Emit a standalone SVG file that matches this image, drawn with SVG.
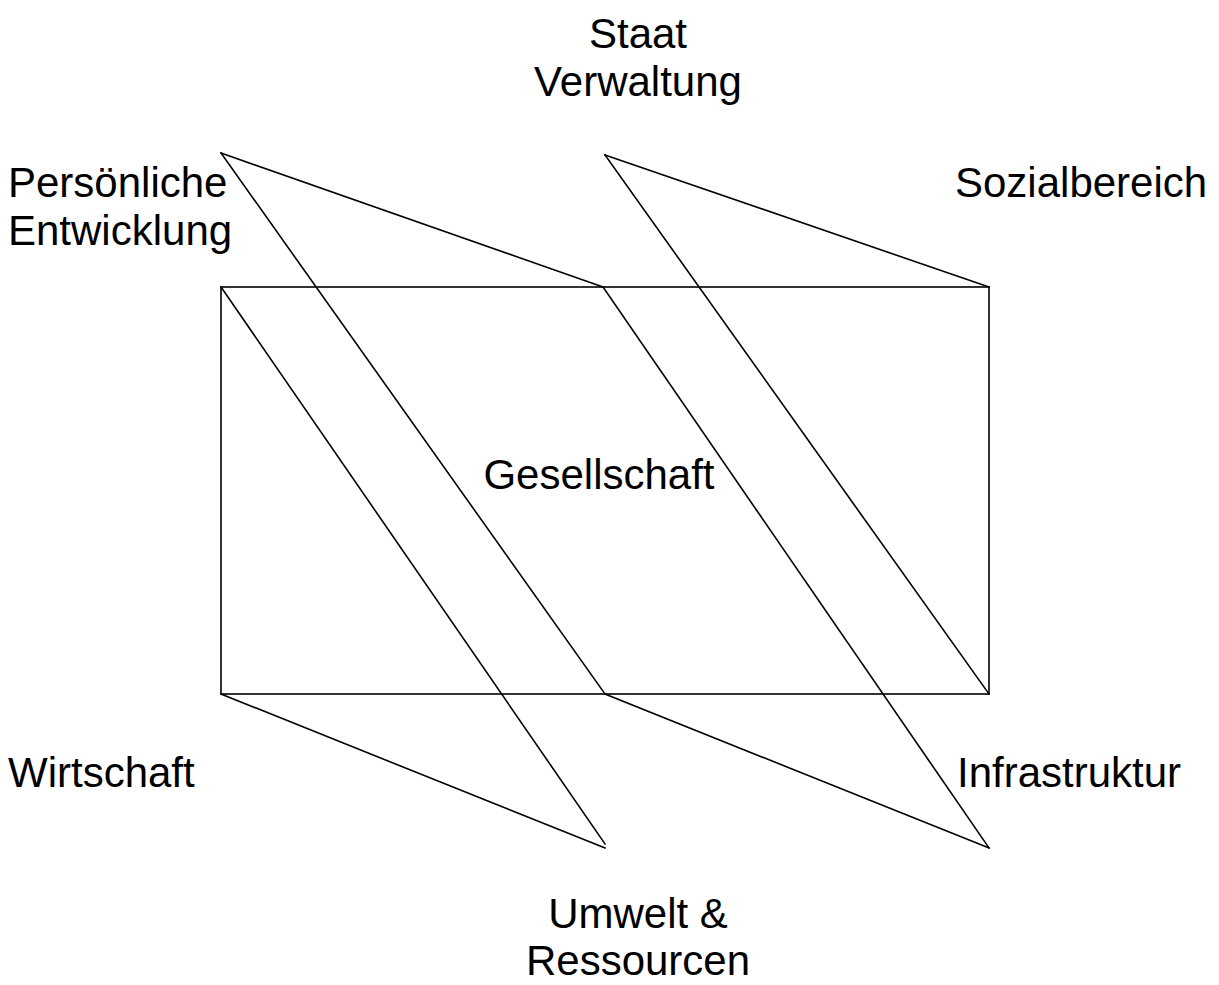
<svg xmlns="http://www.w3.org/2000/svg" width="1219" height="985" viewBox="0 0 1219 985">
<style>
text{font-family:"Liberation Sans",Arial,sans-serif;font-size:42px;fill:#000}
.c{text-anchor:middle}
line,rect{stroke:#000;stroke-width:1.6;fill:none;stroke-linecap:square}
</style>
<rect width="1219" height="985" fill="#fff" style="stroke:none"/>
<g id="connectors">
<rect x="221" y="287" width="768" height="407"/>
<line x1="221" y1="153" x2="603" y2="287"/>
<line x1="221" y1="153" x2="605" y2="694"/>
<line x1="605" y1="155" x2="989" y2="287"/>
<line x1="605" y1="155" x2="989" y2="694"/>
<line x1="221" y1="287" x2="605" y2="844"/>
<line x1="221" y1="694" x2="605" y2="848"/>
<line x1="603" y1="287" x2="989" y2="848"/>
<line x1="605" y1="694" x2="989" y2="848"/>
</g>
<g id="staat"><text class="c" x="638" y="48">Staat</text><text class="c" x="638" y="96">Verwaltung</text></g>
<g id="persoenlich"><text x="8" y="197">Persönliche</text><text x="8" y="245">Entwicklung</text></g>
<g id="sozial"><text x="955" y="197">Sozialbereich</text></g>
<g id="gesellschaft"><text class="c" x="599" y="489">Gesellschaft</text></g>
<g id="wirtschaft"><text x="8" y="787">Wirtschaft</text></g>
<g id="infrastruktur"><text x="957" y="787">Infrastruktur</text></g>
<g id="umwelt"><text class="c" x="638" y="928">Umwelt &amp;</text><text class="c" x="638" y="975">Ressourcen</text></g>
</svg>
